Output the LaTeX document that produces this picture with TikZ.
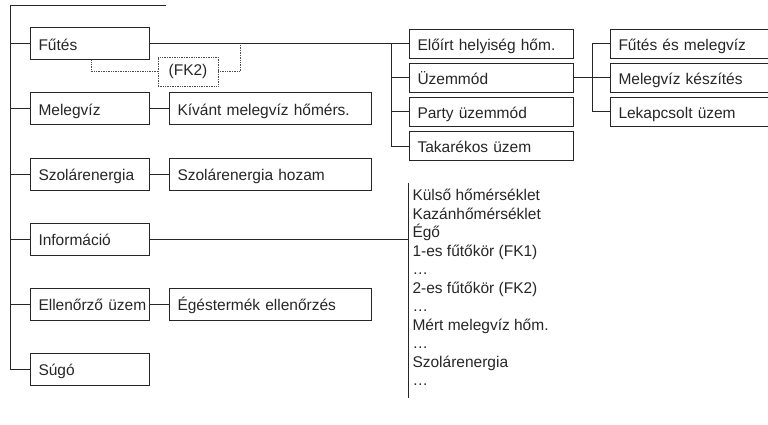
\documentclass[tikz,border=0pt]{standalone}
\usepackage{fontspec}
\setmainfont{Liberation Sans}
\usetikzlibrary{positioning}
\begin{document}
\begin{tikzpicture}[
    line width=1pt, color=black!85,
    every node/.style={font=\fontsize{15.5}{18.5}\selectfont},
    menu/.style={draw, align=left, inner xsep=8pt, text width=103pt,
      minimum height=32pt, text height=13pt, text depth=0pt},
    sub/.style={menu, text width=186pt},
    opt/.style={menu, text width=148pt, minimum height=29.5pt},
    mode/.style={opt, text width=144pt},
    aux/.style={draw=black!70, densely dotted, line width=0.7pt},
    tag/.style={aux, minimum width=60pt, minimum height=29pt, inner sep=0pt},
    entry/.style={anchor=base west, inner sep=0pt}]
  \useasboundingbox (0,0) rectangle (768pt,-425pt);
  \node[menu, anchor=west] (F) at (30pt,-44pt) {Fűtés};
  \node[menu, below=32pt of F] (M) {Melegvíz};
  \node[menu, below=32pt of M] (S) {Szolárenergia};
  \node[menu, below=32pt of S] (I) {Információ};
  \node[menu, below=32pt of I] (E) {Ellenőrző~üzem};
  \node[menu, below=32pt of E] (H) {Súgó};
  \node[sub, right=19pt of M] (M1) {Kívánt melegvíz hőmérs.};
  \node[sub, right=19pt of S] (S1) {Szolárenergia hozam};
  \node[sub, right=19pt of E] (E1) {Égéstermék ellenőrzés};
  \node[opt, right=259pt of F] (F1) {Előírt helyiség hőm.};
  \node[opt, below=3.5pt of F1] (F2) {Üzemmód};
  \node[opt, below=3.5pt of F2] (F3) {Party üzemmód};
  \node[opt, below=3.5pt of F3] (F4) {Takarékos üzem};
  \node[mode, right=36pt of F2] (U2) {Melegvíz készítés};
  \node[mode, above=3.5pt of U2] (U1) {Fűtés és melegvíz};
  \node[mode, below=3.5pt of U2] (U3) {Lekapcsolt üzem};
  \node[tag] (K) at (188pt,-71.5pt) {(FK2)};
  \coordinate (T) at (10pt,-6pt);
  \coordinate (T2) at (166pt,-6pt);
  \coordinate (LT) at (408pt,-183pt);
  \coordinate (LB) at (408pt,-398pt);
  \draw (T2) -- (T) |- (H.west);
  \foreach \n in {F,M,S,I,E}
    \draw (T |- \n.west) -- (\n.west);
  \draw (F.east) -- (F1.west);
  \draw (M.east) -- (M1.west);
  \draw (S.east) -- (S1.west);
  \draw (E.east) -- (E1.west);
  \foreach \n in {F2,F3,F4}
    \draw ([xshift=-18pt]F1.west) |- (\n.west);
  \draw (F2.east) -- (U2.west);
  \foreach \n in {U1,U3}
    \draw ([xshift=-18pt]U2.west) |- (\n.west);
  \draw[aux] ([xshift=1.5pt]F.south) |- (K.west);
  \draw[aux] (K.east) -| ([xshift=90pt]F.east);
  \draw (LT) -- (LB);
  \draw (I.east) -- (I.east -| LT);
  \foreach \t [count=\i] in {Külső hőmérséklet, Kazánhőmérséklet, Égő,
      1-es fűtőkör (FK1), …, 2-es fűtőkör (FK2), …, Mért melegvíz hőm., …,
      Szolárenergia, …}
    \node[entry] (L\i) at (412pt,{-200.5pt-(\i-1)*18.5pt}) {\t};
\end{tikzpicture}
\end{document}
